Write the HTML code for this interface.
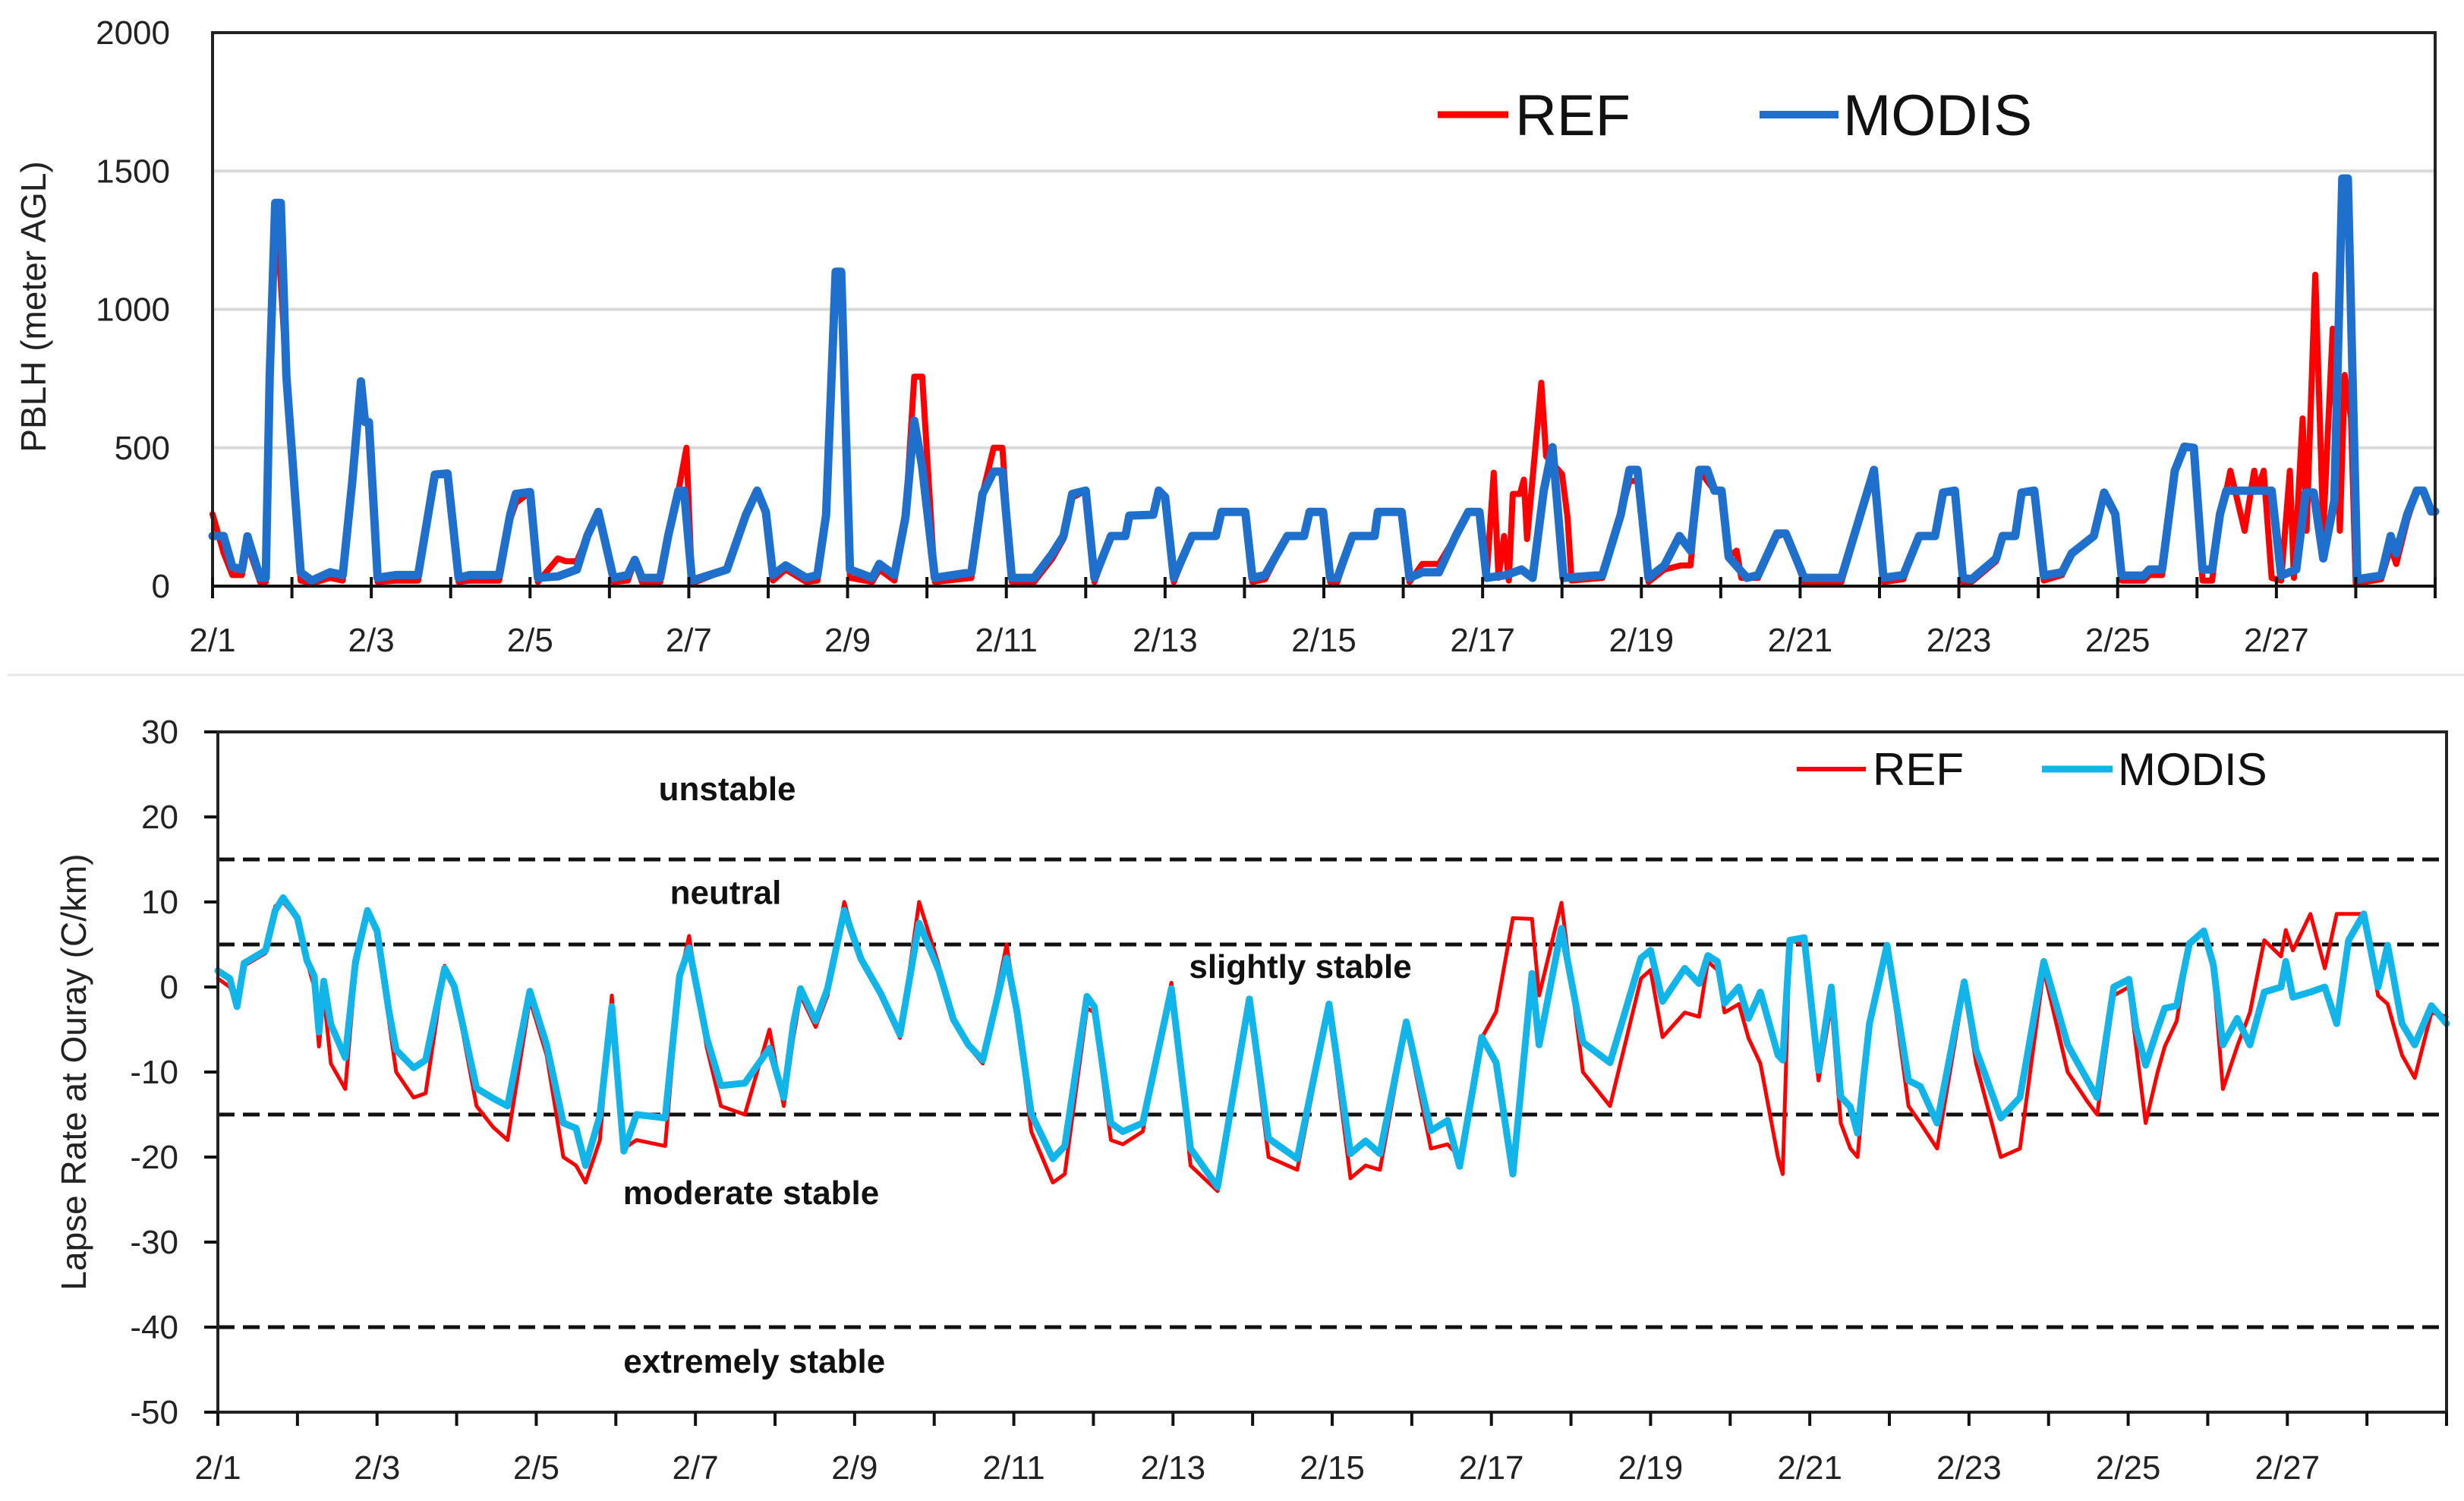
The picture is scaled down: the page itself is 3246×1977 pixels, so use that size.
<!DOCTYPE html>
<html><head><meta charset="utf-8">
<style>
html,body{margin:0;padding:0;background:#fff;}
svg{display:block;font-family:"Liberation Sans",sans-serif;}
.zone{font-weight:bold;font-size:44px;fill:#111;}
</style></head>
<body>
<svg id="fig" width="3246" height="1977" viewBox="0 0 3246 1977" xmlns="http://www.w3.org/2000/svg"></svg>
<script>
// ---------- Top chart data (PBLH, meter AGL) ----------
const dayTickLabels = ["2/1","2/3","2/5","2/7","2/9","2/11","2/13","2/15","2/17","2/19","2/21","2/23","2/25","2/27"];
const pblhTicks = [0,500,1000,1500,2000];
const lapseTicks = [30,20,10,0,-10,-20,-30,-40,-50];
const stabilityThresholds = [15,5,-15,-40];

const modisPblhT = [0,0.14,0.25,0.37,0.44,0.6,0.67,0.72,0.79,0.86,0.93,1.11,1.25,1.48,1.64,1.76,1.87,1.92,1.97,2.08,2.31,2.59,2.8,2.96,3.1,3.24,3.61,3.75,3.82,4.0,4.1,4.35,4.59,4.72,4.86,5.05,5.23,5.32,5.41,5.64,5.74,5.87,5.94,6.04,6.48,6.72,6.86,6.97,7.06,7.22,7.48,7.62,7.73,7.85,7.92,8.03,8.31,8.4,8.59,8.73,8.84,8.94,9.1,9.56,9.7,9.84,9.95,10.07,10.35,10.58,10.72,10.83,11.0,11.11,11.32,11.5,11.55,11.85,11.92,12.0,12.11,12.34,12.64,12.71,13.01,13.1,13.26,13.54,13.75,13.82,13.99,14.08,14.17,14.36,14.64,14.68,14.98,15.08,15.24,15.45,15.66,15.82,15.96,16.05,16.3,16.49,16.63,16.77,16.88,17.02,17.51,17.74,17.85,17.95,18.09,18.29,18.48,18.62,18.73,18.83,18.92,19.01,19.1,19.33,19.47,19.71,19.82,20.05,20.52,20.75,20.93,21.05,21.3,21.5,21.7,21.8,21.95,22.05,22.16,22.47,22.55,22.71,22.79,22.95,23.07,23.3,23.42,23.7,23.83,23.97,24.05,24.33,24.4,24.56,24.72,24.84,24.96,25.07,25.19,25.29,25.37,25.94,26.06,26.25,26.37,26.47,26.59,26.73,26.83,26.9,27.02,27.32,27.44,27.51,27.65,27.77,27.85,27.95,28.0];
const modisPblhV = [181,181,70,60,180,30,30,757,1385,1385,757,50,20,50,40,376,740,593,593,30,40,40,403,407,30,40,40,258,333,340,30,35,60,181,268,30,40,95,30,30,181,345,345,20,60,258,345,268,40,75,30,40,258,1136,1136,60,30,80,40,250,598,430,30,50,333,414,414,30,30,118,181,333,345,30,181,181,255,258,345,322,30,181,181,268,268,30,40,181,181,268,268,30,30,181,181,268,268,30,50,50,181,268,268,30,40,60,30,345,502,30,40,258,420,420,30,75,181,128,420,420,345,345,105,30,40,190,190,30,30,250,420,30,40,181,181,338,345,30,25,100,181,181,338,345,38,50,118,181,338,260,38,38,60,60,417,504,500,60,60,260,345,345,38,60,338,338,100,310,1473,1473,25,38,181,118,260,345,345,270,270];

const refPblhT = [0,0.14,0.25,0.37,0.44,0.6,0.67,0.72,0.79,0.86,0.93,1.11,1.25,1.48,1.64,1.76,1.87,1.92,1.97,2.08,2.31,2.59,2.8,2.96,3.1,3.24,3.61,3.75,3.82,4.0,4.1,4.35,4.45,4.59,4.72,4.86,5.05,5.23,5.32,5.41,5.64,5.74,5.87,5.97,6.04,6.48,6.72,6.86,6.97,7.06,7.22,7.48,7.62,7.73,7.85,7.92,8.03,8.31,8.4,8.59,8.73,8.84,8.94,9.1,9.56,9.7,9.84,9.95,10.07,10.35,10.58,10.72,10.83,11.0,11.11,11.32,11.5,11.55,11.85,11.92,12.0,12.11,12.34,12.64,12.71,13.01,13.1,13.26,13.54,13.75,13.82,13.99,14.08,14.17,14.36,14.64,14.68,14.98,15.08,15.24,15.45,15.66,15.82,15.96,16.05,16.14,16.2,16.27,16.33,16.38,16.47,16.52,16.56,16.74,16.8,17.0,17.07,17.12,17.51,17.74,17.85,17.95,18.09,18.29,18.5,18.62,18.73,18.83,18.92,19.01,19.1,19.2,19.26,19.47,19.71,19.82,20.05,20.52,20.75,20.93,21.05,21.3,21.5,21.7,21.8,21.95,22.05,22.16,22.47,22.55,22.71,22.79,22.95,23.07,23.3,23.42,23.7,23.83,23.97,24.05,24.33,24.4,24.56,24.72,24.84,24.96,25.07,25.19,25.29,25.37,25.42,25.6,25.72,25.76,25.84,25.94,26.06,26.17,26.22,26.33,26.38,26.49,26.59,26.71,26.8,26.86,26.94,27.0,27.32,27.44,27.51,27.65,27.77,27.85,27.95,28.0];
const refPblhV = [260,120,40,40,150,15,15,757,1385,1100,757,20,10,30,20,376,740,593,593,15,20,20,403,400,15,20,20,240,300,340,15,100,90,90,181,260,15,20,90,15,15,181,345,500,10,60,258,345,268,20,60,15,20,258,1136,1136,30,15,60,20,250,757,757,15,30,333,500,500,15,15,100,170,320,345,15,181,181,255,258,345,322,15,181,181,268,268,15,25,181,181,268,268,15,15,181,181,268,268,15,80,80,181,268,268,30,410,30,181,20,333,333,385,170,735,470,405,250,20,30,258,380,380,15,60,75,75,420,380,345,345,105,128,30,30,180,190,15,15,240,420,15,25,181,181,338,345,15,15,90,181,181,338,345,20,40,118,181,338,260,20,20,40,40,417,504,500,20,20,260,345,417,200,417,345,417,30,20,417,30,606,200,1125,200,930,200,763,606,10,25,140,80,240,345,345,270,270];

// ---------- Bottom chart data (lapse rate, C/km) ----------
const lapseT = [0,0.15,0.24,0.33,0.6,0.72,0.82,1.0,1.12,1.21,1.27,1.33,1.42,1.6,1.73,1.88,2.0,2.15,2.24,2.46,2.61,2.85,2.97,3.25,3.46,3.64,3.92,4.13,4.34,4.5,4.62,4.8,4.95,5.1,5.26,5.62,5.8,5.92,6.14,6.32,6.62,6.93,7.11,7.23,7.32,7.51,7.66,7.87,8.08,8.33,8.57,8.81,9.06,
 9.24,9.43,9.61,9.91,10.04,10.22,10.49,10.64,10.92,11.01,11.22,11.37,11.62,11.98,12.22,12.56,12.96,13.2,13.56,13.96,14.23,14.42,14.6,14.93,15.24,15.45,15.6,15.88,16.06,16.27,16.51,16.6,16.88,17.15,17.49,17.88,18.0,18.15,18.43,18.61,
 18.72,18.84,18.93,19.11,19.23,19.38,19.6,19.66,19.75,19.93,20.11,20.27,20.39,20.51,20.6,20.75,20.97,21.24,21.39,21.6,21.94,22.09,22.4,22.64,22.94,23.24,23.49,23.61,23.82,24.01,24.1,24.22,24.37,24.46,24.61,24.77,24.95,25.07,25.19,25.37,25.53,25.71,25.92,25.98,26.07,26.29,26.47,26.62,26.77,26.96,27.14,27.26,27.44,27.6,27.81,28.0];
const modisLapse = [1.9,1,-2.3,2.8,4.3,9,10.5,8.1,3.1,1.3,-5.3,0.7,-4.4,-8.3,3,9,6.6,-2.9,-7.4,-9.5,-8.6,2.2,0.1,-11.9,-13.1,-14,-0.5,-6.8,-16,-16.6,-21,-15.1,-2.3,-19.3,-15,-15.4,1.3,4.6,-5.9,-11.6,-11.3,-7.2,-13,-4.4,-0.2,-4,-0.2,9,3.3,-0.8,-5.6,7.5,1.9,
 -3.8,-6.8,-8.6,3.4,-2.9,-14.9,-20.2,-18.7,-1.1,-2.3,-16,-17,-16,-0.2,-19,-23.5,-1.4,-17.8,-20.2,-2,-19.6,-18.1,-19.6,-4.1,-16.9,-15.7,-21.1,-5.9,-8.9,-22,1.6,-6.8,6.9,-6.5,-8.9,3.4,4.3,-1.7,2.2,0.4,
 3.7,3,-1.9,0,-3.7,-0.6,-8,-8.6,5.5,5.8,-9.8,0,-12.9,-14.1,-17.2,-4.3,4.9,-11,-11.7,-16,0.6,-7.4,-15.4,-13,3,-6.8,-11,-13,0,0.9,-4.9,-9.2,-4.9,-2.5,-2.2,5.1,6.6,2.6,-6.8,-3.7,-6.8,-0.6,0,3,-1.2,-0.6,0,-4.3,5.5,8.6,0,4.9,-4.3,-6.8,-2.2,-4.3];
const refLapse = [1,0,-2,2.5,4,9.5,10,8,3,0,-7,-1,-9,-12,2,9,6.6,-4,-10,-13,-12.5,2.5,0,-14,-16.5,-18,-1.5,-8,-20,-21,-23,-18,-1,-19,-18,-18.7,1,6,-7,-14,-15,-5,-14,-6,-1,-4.7,-1,10,3,-1,-6,10,2.5,
 -4,-7,-9,5,-3,-17,-23,-22,-2.5,-3,-18,-18.5,-17,0.5,-21,-24,-2,-20,-21.5,-2.5,-22.5,-21,-21.5,-4.5,-19,-18.5,-20,-6,-2.9,8.1,8,-1,9.9,-10,-14,1,2,-5.9,-3,-3.5,
 3,2,-3,-2,-6,-9,-20,-22,5.5,5,-11,-2,-16,-19,-20,-5,5,-14,-16,-19,0,-9,-20,-19,2,-10,-13.5,-15,-1,0,-7,-16,-10,-7,-4,5,6.6,2,-12,-7,-3,5.5,3.6,6.7,4.3,8.6,2.2,8.6,8.6,8.6,-1,-2,-8,-10.7,-3,-3.5];
const zoneLabels = ["unstable","neutral","slightly stable","moderate stable","extremely stable"];
const zoneLabelValues = [23.3,11.1,2.4,-24.2,-44];
const zoneLabelDays = [6.4,6.38,13.6,6.7,6.74];

const NS = "http://www.w3.org/2000/svg";
const svg = document.getElementById("fig");
function mk(tag, attrs, parent){ const e=document.createElementNS(NS,tag); for(const k in attrs) e.setAttribute(k,attrs[k]); (parent||svg).appendChild(e); return e; }
function txt(s, attrs, parent){ const e=mk("text",attrs,parent); e.textContent=s; return e; }

// ---------- TOP chart ----------
const T = {x0:280, x1:3208, y0:772, y1:43, vmin:0, vmax:2000, days:28};
const tx = t => T.x0 + t*(T.x1-T.x0)/T.days;
const ty = v => T.y0 - (v-T.vmin)*(T.y0-T.y1)/(T.vmax-T.vmin);
const gTop = mk("g",{});


pblhTicks.forEach(v=>{
  if(v>0 && v<2000){ const l=mk("line",{x1:T.x0,x2:T.x1,y1:ty(v),y2:ty(v),stroke:"#d9d9d9","stroke-width":4},gTop);
      }
  const t=txt(String(v),{x:224,y:ty(v)+15,"text-anchor":"end","font-size":44,fill:"#222"},gTop);
   
});
function drawLine(g,ts,vs,fx,fy,color,w,name){
  const n=Math.min(ts.length,vs.length); let d="";
  for(let i=0;i<n;i++){ d+=(i?"L":"M")+fx(ts[i]).toFixed(1)+","+fy(vs[i]).toFixed(1); }
  const p=mk("path",{d:d,fill:"none",stroke:color,"stroke-width":w,"stroke-linejoin":"round","stroke-linecap":"round"},g);
   
}
drawLine(gTop,refPblhT,refPblhV,tx,ty,"#ff0000",8,"ref-pblh-line");
drawLine(gTop,modisPblhT,modisPblhV,tx,ty,"#1f6fcd",11,"modis-pblh-line");
const fr=mk("path",{d:`M${T.x0},${T.y0}V${T.y1}H${T.x1}V${T.y0}`,fill:"none",stroke:"#222","stroke-width":4},gTop);
 
const xa=mk("line",{x1:T.x0,x2:T.x1,y1:T.y0,y2:T.y0,stroke:"#111","stroke-width":4},gTop);
 
for(let d=0; d<=T.days; d++){
  const l=mk("line",{x1:tx(d),x2:tx(d),y1:T.y0-12,y2:T.y0+16,stroke:"#111","stroke-width":4},gTop);
   
}
dayTickLabels.forEach((s,i)=>{
  const t=txt(s,{x:tx(i*2),y:858,"text-anchor":"middle","font-size":44,fill:"#222"},gTop);
   
});
const yt=txt("PBLH (meter AGL)",{x:0,y:0,"text-anchor":"middle","font-size":46,fill:"#222",transform:"translate(60,404) rotate(-90)"},gTop);
 
const lg=mk("g",{},gTop);  
const l1=mk("line",{x1:1894,x2:1987,y1:151,y2:151,stroke:"#ff0000","stroke-width":9},lg);
 
const lt1=txt("REF",{x:1996,y:178,"font-size":76,fill:"#111"},lg);
 
const l2=mk("line",{x1:2318,x2:2422,y1:151,y2:151,stroke:"#1f6fcd","stroke-width":10},lg);
 
const lt2=txt("MODIS",{x:2428,y:178,"font-size":76,fill:"#111"},lg);
 

const sep=mk("line",{x1:10,x2:3246,y1:889,y2:889,stroke:"#e6e6e6","stroke-width":3});
 

// ---------- BOTTOM chart ----------
const B = {x0:287, x1:3223, y0:1860, y1:964, vmin:-50, vmax:30, days:28};
const bx = t => B.x0 + t*(B.x1-B.x0)/B.days;
const by = v => B.y0 - (v-B.vmin)*(B.y0-B.y1)/(B.vmax-B.vmin);
const gB = mk("g",{});


lapseTicks.forEach(v=>{
  const l=mk("line",{x1:B.x0-18,x2:B.x0,y1:by(v),y2:by(v),stroke:"#111","stroke-width":4},gB);
   
  const t=txt(String(v),{x:235,y:by(v)+15,"text-anchor":"end","font-size":44,fill:"#222"},gB);
   
});
stabilityThresholds.forEach(v=>{
  const l=mk("line",{x1:B.x0,x2:B.x1,y1:by(v),y2:by(v),stroke:"#111","stroke-width":5,"stroke-dasharray":"22 11"},gB);
   
});
zoneLabels.forEach((s,i)=>{
  const t=txt(s,{x:bx(zoneLabelDays[i]),y:by(zoneLabelValues[i])+15,"text-anchor":"middle",class:"zone"},gB);
   
});
drawLine(gB,lapseT,refLapse,bx,by,"#ff0000",5,"ref-lapse-line");
drawLine(gB,lapseT,modisLapse,bx,by,"#12b5ea",9,"modis-lapse-line");
const bf=mk("rect",{x:B.x0,y:B.y1,width:B.x1-B.x0,height:B.y0-B.y1,fill:"none",stroke:"#222","stroke-width":4},gB);
 
for(let d=0; d<=B.days; d++){
  const l=mk("line",{x1:bx(d),x2:bx(d),y1:B.y0,y2:B.y0+18,stroke:"#111","stroke-width":4},gB);
   
}
dayTickLabels.forEach((s,i)=>{
  const t=txt(s,{x:bx(i*2),y:1948,"text-anchor":"middle","font-size":44,fill:"#222"},gB);
   
});
const yt2=txt("Lapse Rate at Ouray (C/km)",{x:0,y:0,"text-anchor":"middle","font-size":46,fill:"#222",transform:"translate(113,1412) rotate(-90)"},gB);
 
const lg2=mk("g",{},gB);  
const m1=mk("line",{x1:2367,x2:2458,y1:1013,y2:1013,stroke:"#ff0000","stroke-width":6},lg2);
 
const mt1=txt("REF",{x:2467,y:1034,"font-size":60,fill:"#111"},lg2);
 
const m2=mk("line",{x1:2690,x2:2783,y1:1013,y2:1013,stroke:"#12b5ea","stroke-width":9},lg2);
 
const mt2=txt("MODIS",{x:2790,y:1034,"font-size":60,fill:"#111"},lg2);
 
</script>
</body></html>
